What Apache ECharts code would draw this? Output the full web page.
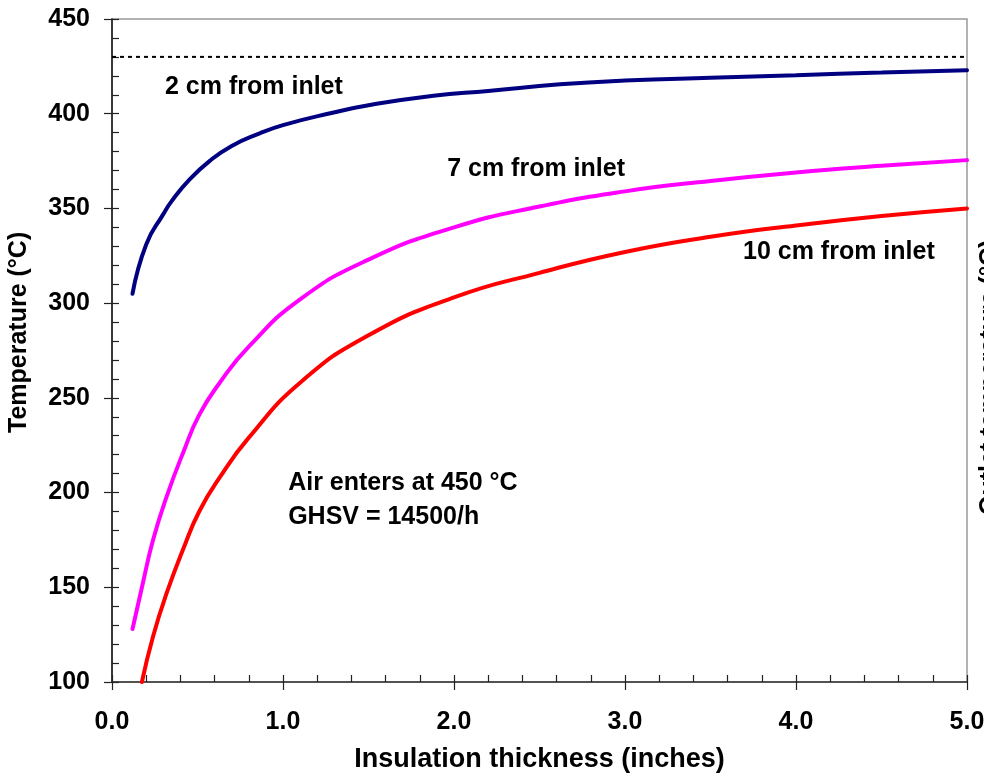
<!DOCTYPE html>
<html>
<head>
<meta charset="utf-8">
<script src="https://cdn.jsdelivr.net/npm/echarts@6/dist/echarts.min.js"></script>
<style>
  html, body { margin: 0; padding: 0; background: #fff; }
  #chart { width: 984px; height: 773px; }
</style>
</head>
<body>
<div id="chart"></div>
<script>
// values
var x2cm = [0.12, 0.2, 0.3, 0.35, 0.45, 0.57, 0.7, 0.86, 1.0, 1.29, 1.5, 1.88, 2.2, 2.62, 3.0, 3.5, 4.0, 4.5, 5.0];
var t2cm = [305, 331, 347, 354, 365, 375, 383, 389.5, 394, 400.5, 404.5, 409.5, 412, 415.5, 417.5, 419, 420.3, 421.8, 423];

var x7cm = [0.12, 0.18, 0.24, 0.32, 0.42, 0.51, 0.63, 0.8, 1.1, 1.5, 2.0, 2.5, 3.0, 3.5, 4.0, 4.5, 5.0];
var t7cm = [128, 152, 175, 198, 222, 241, 258, 277, 302, 323, 340, 351, 359, 364.5, 369, 372.5, 375.5];

var x10cm = [0.175, 0.24, 0.32, 0.42, 0.51, 0.63, 0.8, 1.1, 1.5, 2.0, 2.5, 3.0, 3.5, 4.0, 4.5, 5.0];
var t10cm = [100, 124, 147, 171, 190, 208, 229, 258, 283, 303, 316, 327, 335, 341, 346, 350];

var refLine = [[0, 430], [5, 430]];

var notes = [
  ["2 cm from inlet", 0.31, 414],
  ["7 cm from inlet", 1.96, 371],
  ["10 cm from inlet", 3.69, 327],
  ["Air enters at 450 °C", 1.03, 205],
  ["GHSV = 14500/h", 1.03, 187]
];

function pairs(xs, ys) {
  var out = [];
  for (var i = 0; i < xs.length; i++) out.push([xs[i], ys[i]]);
  return out;
}

var font = "Liberation Sans, Arial, sans-serif";
var chart = echarts.init(document.getElementById("chart"));

function curve(name, xs, ys, color) {
  return {
    name: name,
    type: "line",
    xAxisIndex: 0,
    yAxisIndex: 0,
    smooth: 0.5,
    showSymbol: false,
    data: pairs(xs, ys),
    lineStyle: { color: color, width: 4, cap: "round" },
    itemStyle: { color: color },
    z: 5
  };
}

var option = {
  animation: false,
  backgroundColor: "#fff",
  grid: {
    left: 112, right: 17, top: 19, bottom: 91,
    outerBoundsMode: "none",
    show: true, borderColor: "#999", borderWidth: 1.5
  },
  xAxis: [
    {
      type: "value", min: 0, max: 5, interval: 1,
      axisLine: { onZero: false, lineStyle: { color: "#333", width: 1.5 } },
      axisTick: { inside: false, length: 8, lineStyle: { color: "#222", width: 1.2 } },
      axisLabel: {
        margin: 28, color: "#000", fontFamily: font, fontWeight: "bold", fontSize: 25,
        formatter: function (v) { return v.toFixed(1); }
      },
      splitLine: { show: false },
      name: "Insulation thickness (inches)",
      nameLocation: "middle", nameGap: 64,
      nameTextStyle: { color: "#000", fontFamily: font, fontWeight: "bold", fontSize: 27 }
    },
    {
      type: "value", min: 0, max: 5, interval: 0.2, position: "bottom",
      axisLine: { show: false },
      axisTick: { inside: true, length: 7, lineStyle: { color: "#222", width: 1.2 } },
      axisLabel: { show: false },
      splitLine: { show: false }
    }
  ],
  yAxis: [
    {
      type: "value", min: 100, max: 450, interval: 50,
      axisLine: { onZero: false, lineStyle: { color: "#111", width: 1.5 } },
      axisTick: { inside: false, length: 8, lineStyle: { color: "#222", width: 1.2 } },
      axisLabel: { margin: 22, color: "#000", fontFamily: font, fontWeight: "bold", fontSize: 25 },
      splitLine: { show: false }
    },
    {
      type: "value", min: 100, max: 450, interval: 10, position: "left",
      axisLine: { show: false },
      axisTick: { inside: true, length: 7, lineStyle: { color: "#222", width: 1.2 } },
      axisLabel: { show: false },
      splitLine: { show: false }
    }
  ],
  // left axis title and the clipped right-hand title
  graphic: [
    {
      type: "text", x: 7, y: 433, rotation: Math.PI / 2,
      style: { text: "Temperature (°C)", fontFamily: font, fontWeight: "bold", fontSize: 25, fill: "#000" }
    },
    {
      type: "text", x: 978, y: 515, rotation: Math.PI / 2,
      style: { text: "Outlet temperature (°C)", fontFamily: font, fontWeight: "bold", fontSize: 25, fill: "#000" }
    }
  ],
  series: [
    {
      name: "ref",
      type: "line",
      showSymbol: false,
      data: refLine,
      lineStyle: { color: "#000", width: 2, type: [4, 4] },
      z: 3
    },
    curve("2 cm from inlet", x2cm, t2cm, "#000080"),
    curve("7 cm from inlet", x7cm, t7cm, "#ff00ff"),
    curve("10 cm from inlet", x10cm, t10cm, "#ff0000"),
    {
      name: "notes",
      type: "scatter",
      symbolSize: 0,
      itemStyle: { opacity: 1 },
      data: notes.map(function (n) { return { value: [n[1], n[2]], name: n[0] }; }),
      label: {
        show: true, position: "right", distance: 0,
        formatter: function (p) { return p.name; },
        color: "#000", opacity: 1, fontFamily: font, fontWeight: "bold", fontSize: 25
      },
      z: 6
    }
  ]
};
chart.setOption(option);
</script>
</body>
</html>
